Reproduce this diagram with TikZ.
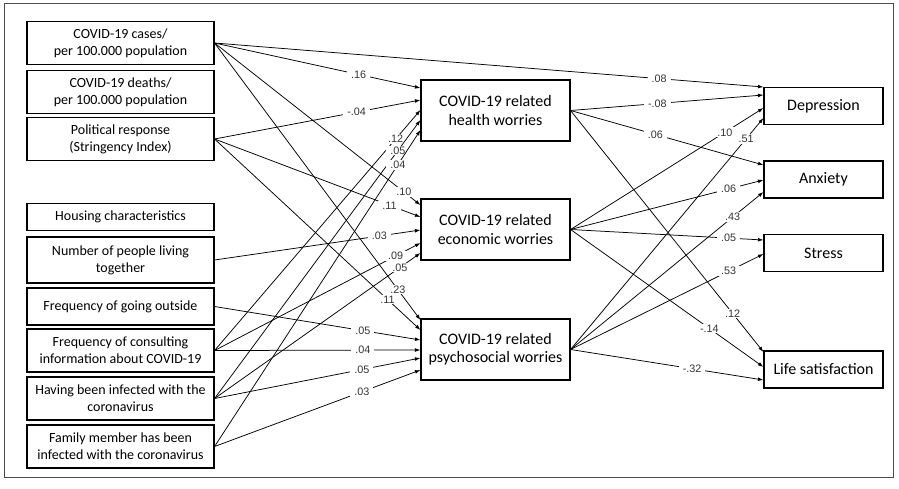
\documentclass[tikz,border=0pt]{standalone}
\usepackage{fontspec}
\setmainfont{Carlito}
\newfontfamily\coeffont{Liberation Sans}
\usetikzlibrary{arrows.meta}
\tikzset{predbox/.style = {draw, line width = 1.1pt, inner sep = 0, align = center,
    minimum width = 187pt, minimum height = 43pt, font = \fontsize{14}{16.7}\selectfont}}
\tikzset{worrybox/.style = {draw, line width = 1.1pt, inner sep = 0, align = center,
    minimum width = 149pt, minimum height = 61pt, font = \fontsize{16}{18.4}\selectfont}}
\tikzset{outcomebox/.style = {draw, line width = 1.1pt, inner sep = 0, align = center,
    minimum width = 119pt, minimum height = 37pt, font = \fontsize{16}{18.4}\selectfont}}
\tikzset{coef/.style = {fill = white, inner xsep = 4pt, inner ysep = 1pt, text = black!80,
    font = \coeffont\fontsize{10.8}{12}\selectfont}}
\tikzset{arr/.style = {-{Latex[length = 5.5pt, width = 3.8pt]}, line width = 0.75pt}}

\begin{document}
\begin{tikzpicture}[x = 1pt, y = -1pt]
      \useasboundingbox (0, 0) rectangle (899, 488);
      \draw [line width = 0.8pt, black!70] (4, 3) rectangle (893, 477);

      \node [predbox] (cases) at (120.5, 43) {COVID-19 cases/\\per 100.000 population};
      \node [predbox] (deaths) at (120.5, 92) {COVID-19 deaths/\\per 100.000 population};
      \node [predbox] (policy) at (120.5, 139) {Political response\\(Stringency Index)};
      \node [predbox, minimum height = 27pt] (housing) at (120.5, 217) {Housing characteristics};
      \node [predbox, minimum height = 46pt] (people) at (120.5, 260) {Number of people living\\together};
      \node [predbox, minimum height = 37pt] (outside) at (120.5, 306.5) {Frequency of going outside};
      \node [predbox] (consult) at (120.5, 350.5) {Frequency of consulting\\information about COVID-19};
      \node [predbox] (infected) at (120.5, 398.5) {Having been infected with the\\coronavirus};
      \node [predbox] (family) at (120.5, 446.5) {Family member has been\\infected with the coronavirus};

      \node [worrybox] (health) at (495.5, 110.5) {COVID-19 related\\health worries};
      \node [worrybox] (economic) at (495.5, 229.5) {COVID-19 related\\economic worries};
      \node [worrybox] (psycho) at (495.5, 349.5) {COVID-19 related\\psychosocial worries};

      \node [outcomebox] (depression) at (823.5, 106) {Depression};
      \node [outcomebox] (anxiety) at (823.5, 179.5) {Anxiety};
      \node [outcomebox] (stress) at (823.5, 253) {Stress};
      \node [outcomebox] (life) at (823.5, 369.5) {Life satisfaction};

      \draw [arr] (cases.east) -- node [coef, pos = .81] {.08} ([yshift = 19pt]depression.west);

      \draw [arr] (cases.east) -- node [coef, pos = .70] {.16} ([yshift = 22.5pt]health.west);
      \draw [arr] (policy.east) -- node [coef, pos = .69] {-.04} ([yshift = 10.5pt]health.west);
      \draw [arr] (consult.east) -- node [coef, pos = .88] {.12} ([yshift = 0.5pt]health.west);
      \draw [arr] (infected.east) -- node [coef, pos = .89] {.05} ([yshift = -9.5pt]health.west);
      \draw [arr] (family.east) -- node [coef, pos = .89] {.04} ([yshift = -19.5pt]health.west);

      \draw [arr] (cases.east) -- node [coef, pos = .92] {.10} ([yshift = 24.5pt]economic.west);
      \draw [arr] (policy.east) -- node [coef, pos = .85] {.11} ([yshift = 12.5pt]economic.west);
      \draw [arr] (people.east) -- node [coef, pos = .80] {.03} ([yshift = -0.5pt]economic.west);
      \draw [arr] (consult.east) -- node [coef, pos = .88] {.09} ([yshift = -13.5pt]economic.west);
      \draw [arr] (infected.east) -- node [coef, pos = .90] {.05} ([yshift = -23.5pt]economic.west);

      \draw [arr] (cases.east) -- node [coef, pos = .89] {.23} ([yshift = 29.5pt]psycho.west);
      \draw [arr] (policy.east) -- node [coef, pos = .84] {.11} ([yshift = 19.5pt]psycho.west);
      \draw [arr] (outside.east) -- node [coef, pos = .72] {.05} ([yshift = 9.5pt]psycho.west);
      \draw [arr] (consult.east) -- node [coef, pos = .72] {.04} ([yshift = -0.5pt]psycho.west);
      \draw [arr] (infected.east) -- node [coef, pos = .715] {.05} ([yshift = -8.5pt]psycho.west);
      \draw [arr] (family.east) -- node [coef, pos = .715] {.03} ([yshift = -20.5pt]psycho.west);

      \draw [arr] (health.east) -- node [coef, pos = .45] {-.08} ([yshift = 11pt]depression.west);
      \draw [arr] (economic.east) -- node [coef, pos = .80] {.10} ([yshift = -2pt]depression.west);
      \draw [arr] (psycho.east) -- node [coef, pos = .91] {.51} ([yshift = -12pt]depression.west);

      \draw [arr] (health.east) -- node [coef, pos = .44] {.06} ([yshift = 14.5pt]anxiety.west);
      \draw [arr] (economic.east) -- node [coef, pos = .82] {.06} ([yshift = -0.5pt]anxiety.west);
      \draw [arr] (psycho.east) -- node [coef, pos = .84] {.43} ([yshift = -12.5pt]anxiety.west);

      \draw [arr] (economic.east) -- node [coef, pos = .82] {.05} ([yshift = 13pt]stress.west);
      \draw [arr] (psycho.east) -- node [coef, pos = .82] {.53} ([yshift = -1pt]stress.west);

      \draw [arr] (health.east) -- node [coef, pos = .84] {.12} ([yshift = 17.5pt]life.west);
      \draw [arr] (economic.east) -- node [coef, pos = .72] {-.14} ([yshift = 2.5pt]life.west);
      \draw [arr] (psycho.east) -- node [coef, pos = .63] {-.32} ([yshift = -10.5pt]life.west);
    \end{tikzpicture}
\end{document}
